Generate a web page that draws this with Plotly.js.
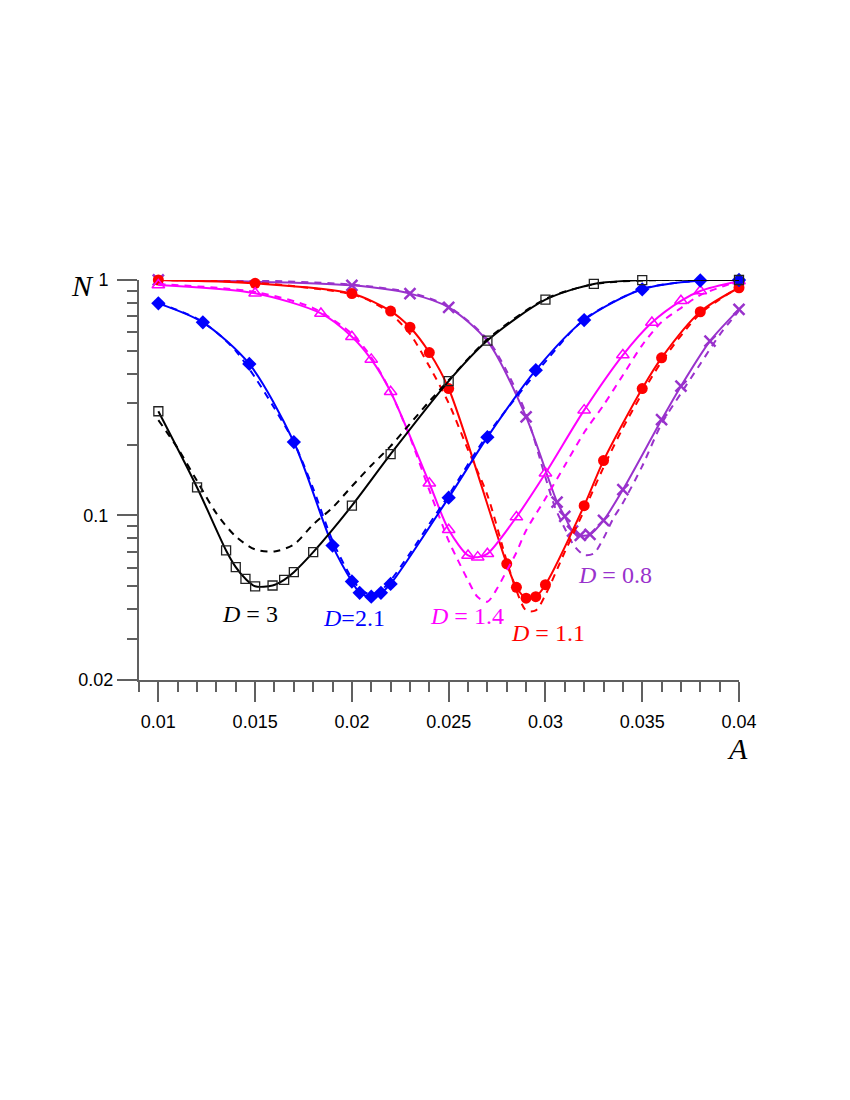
<!DOCTYPE html>
<html>
<head>
<meta charset="utf-8">
<script src="https://cdn.plot.ly/plotly-3.0.1.min.js"></script>
<style>
  html, body { margin: 0; padding: 0; background: #ffffff; }
  #chart { width: 850px; height: 1100px; }
</style>
</head>
<body>
<div id="chart"></div>
<script>
// ---------- data ----------
// D = 3 (black, squares)
const x3  = [0.01, 0.012, 0.0135, 0.014, 0.0145, 0.015, 0.0159, 0.0165, 0.017, 0.018, 0.02, 0.022, 0.025, 0.027, 0.03, 0.0325, 0.035, 0.04];
const y3  = [0.277, 0.1315, 0.071, 0.0603, 0.0538, 0.050, 0.0504, 0.0533, 0.0574, 0.0698, 0.110, 0.182, 0.372, 0.553, 0.825, 0.962, 0.998, 1.0];
const x3d = [0.01, 0.011, 0.012, 0.013, 0.014, 0.015, 0.016, 0.017, 0.018, 0.019, 0.02, 0.021, 0.022, 0.023, 0.024, 0.025, 0.027, 0.03, 0.0325, 0.035, 0.04];
const y3d = [0.254, 0.193, 0.14, 0.102, 0.0814, 0.0717, 0.0703, 0.0753, 0.0916, 0.108, 0.133, 0.163, 0.197, 0.245, 0.305, 0.375, 0.56, 0.83, 0.96, 0.995, 1.0];

// D = 2.1 (blue, diamonds)
const x21  = [0.01, 0.0123, 0.0147, 0.017, 0.019, 0.02, 0.0204, 0.021, 0.0215, 0.022, 0.025, 0.027, 0.0295, 0.032, 0.035, 0.038, 0.04];
const y21  = [0.796, 0.661, 0.44, 0.205, 0.0745, 0.0524, 0.0469, 0.0452, 0.0469, 0.0512, 0.119, 0.215, 0.414, 0.676, 0.913, 0.995, 1.0];
const x21d = [0.01, 0.011, 0.012, 0.013, 0.014, 0.015, 0.016, 0.017, 0.018, 0.019, 0.02, 0.0205, 0.021, 0.0215, 0.022, 0.023, 0.024, 0.025, 0.027, 0.03, 0.032, 0.035, 0.038, 0.04];
const y21d = [0.80, 0.745, 0.685, 0.60, 0.50, 0.385, 0.285, 0.205, 0.13, 0.078, 0.054, 0.048, 0.0462, 0.048, 0.053, 0.069, 0.092, 0.122, 0.22, 0.45, 0.68, 0.915, 0.995, 1.0];

// D = 1.4 (magenta, open triangles)
const x14  = [0.01, 0.015, 0.0184, 0.02, 0.021, 0.022, 0.024, 0.025, 0.026, 0.0265, 0.027, 0.0285, 0.03, 0.032, 0.034, 0.0355, 0.037, 0.038, 0.04];
const y14  = [0.952, 0.878, 0.721, 0.574, 0.46, 0.335, 0.137, 0.0869, 0.0676, 0.0665, 0.0687, 0.0984, 0.151, 0.28, 0.48, 0.66, 0.816, 0.898, 0.99];
const x14d = [0.01, 0.015, 0.018, 0.02, 0.021, 0.022, 0.023, 0.024, 0.025, 0.0255, 0.026, 0.0265, 0.027, 0.0275, 0.028, 0.0285, 0.029, 0.03, 0.031, 0.032, 0.033, 0.034, 0.035, 0.036, 0.037, 0.038, 0.04];
const y14d = [0.96, 0.89, 0.76, 0.59, 0.47, 0.335, 0.215, 0.128, 0.078, 0.064, 0.053, 0.045, 0.043, 0.0489, 0.0583, 0.0696, 0.0863, 0.118, 0.163, 0.225, 0.294, 0.394, 0.529, 0.663, 0.76, 0.863, 0.99];

// D = 1.1 (red, filled circles)
const x11  = [0.01, 0.015, 0.02, 0.022, 0.023, 0.024, 0.025, 0.028, 0.0285, 0.029, 0.0295, 0.03, 0.032, 0.033, 0.035, 0.036, 0.038, 0.04];
const y11  = [1.0, 0.968, 0.876, 0.738, 0.63, 0.492, 0.346, 0.0623, 0.0495, 0.0445, 0.0452, 0.0508, 0.11, 0.171, 0.346, 0.467, 0.733, 0.927];
const x11d = [0.01, 0.015, 0.02, 0.021, 0.022, 0.023, 0.024, 0.025, 0.026, 0.027, 0.028, 0.0285, 0.029, 0.0295, 0.03, 0.031, 0.032, 0.033, 0.034, 0.035, 0.036, 0.038, 0.04];
const y11d = [1.0, 0.975, 0.87, 0.81, 0.72, 0.59, 0.43, 0.30, 0.19, 0.122, 0.064, 0.048, 0.0395, 0.0395, 0.046, 0.07, 0.105, 0.16, 0.235, 0.33, 0.45, 0.72, 0.93];

// D = 0.8 (purple, crosses)
const x08  = [0.01, 0.02, 0.023, 0.025, 0.029, 0.0306, 0.031, 0.0314, 0.0318, 0.0323, 0.033, 0.034, 0.036, 0.037, 0.0385, 0.04];
const y08  = [1.0, 0.949, 0.875, 0.765, 0.262, 0.114, 0.099, 0.0858, 0.0822, 0.083, 0.0952, 0.1286, 0.255, 0.354, 0.55, 0.75];
const x08line = [0.01, 0.02, 0.023, 0.025, 0.027, 0.029, 0.0306, 0.031, 0.0314, 0.0318, 0.0323, 0.033, 0.034, 0.036, 0.037, 0.0385, 0.04];
const y08line = [1.0, 0.949, 0.875, 0.765, 0.55, 0.262, 0.114, 0.099, 0.0858, 0.0822, 0.083, 0.0952, 0.1286, 0.255, 0.354, 0.55, 0.75];
const x08d = [0.01, 0.015, 0.02, 0.023, 0.025, 0.027, 0.028, 0.029, 0.03, 0.0305, 0.031, 0.0315, 0.032, 0.0325, 0.033, 0.0335, 0.034, 0.035, 0.036, 0.037, 0.038, 0.039, 0.04];
const y08d = [1.0, 0.995, 0.955, 0.885, 0.77, 0.56, 0.41, 0.27, 0.145, 0.108, 0.088, 0.074, 0.068, 0.069, 0.08, 0.097, 0.113, 0.162, 0.245, 0.33, 0.44, 0.585, 0.74];

// axis ticks
const xMajor = [0.01, 0.015, 0.02, 0.025, 0.03, 0.035, 0.04];
const xMajorText = ['0.01', '0.015', '0.02', '0.025', '0.03', '0.035', '0.04'];
const xMinor = [0.009, 0.011, 0.012, 0.013, 0.014, 0.016, 0.017, 0.018, 0.019, 0.021, 0.022, 0.023, 0.024, 0.026, 0.027, 0.028, 0.029, 0.031, 0.032, 0.033, 0.034, 0.036, 0.037, 0.038, 0.039];
const yMajor = [0.02, 0.1, 1];
const yMajorText = ['0.02', '0.1\u00a0', '1\u00a0'];
const yMinor = [0.03, 0.04, 0.05, 0.06, 0.07, 0.08, 0.09, 0.2, 0.3, 0.4, 0.5, 0.6, 0.7, 0.8, 0.9];

// labels
const labelText = ['<i>D</i> = 3', '<i>D</i>=2.1', '<i>D</i> = 1.4', '<i>D</i> = 1.1', '<i>D</i> = 0.8'];
const labelX = [0.01473, 0.0201, 0.02594, 0.03013, 0.03359];
const labelY = [0.0383, 0.0368, 0.0375, 0.0318, 0.0561];

// ---------- styles ----------
const C3 = '#000000', C21 = '#0000ff', C14 = '#ff00ff', C11 = '#ff0000', C08 = '#9932cc';
const dashPat = '7px,6px';

function solid(x, y, color, marker) {
  const t = { x: x, y: y, type: 'scatter', mode: marker ? 'lines+markers' : 'lines', cliponaxis: false,
           line: { color: color, width: 2, shape: 'spline', smoothing: 0.8 },
           hoverinfo: 'skip', showlegend: false };
  if (marker) t.marker = marker;
  return t;
}
function dashed(x, y, color) {
  return { x: x, y: y, type: 'scatter', mode: 'lines', cliponaxis: false,
           line: { color: color, width: 2, dash: dashPat, shape: 'spline', smoothing: 0.8 },
           hoverinfo: 'skip', showlegend: false };
}

const traces = [
  dashed(x08d, y08d, C08),
  solid(x08line, y08line, C08),
  { x: x08, y: y08, type: 'scatter', mode: 'markers', cliponaxis: false, hoverinfo: 'skip', showlegend: false,
    marker: { symbol: 'x-thin-open', size: 11, color: C08, line: { color: C08, width: 2.5 } } },
  dashed(x11d, y11d, C11),
  solid(x11, y11, C11, { symbol: 'circle', size: 11, color: C11 }),
  dashed(x14d, y14d, C14),
  solid(x14, y14, C14, { symbol: 'triangle-up-open', size: 11, color: C14, line: { color: C14, width: 1.5 } }),
  dashed(x21d, y21d, C21),
  solid(x21, y21, C21, { symbol: 'diamond', size: 11, color: C21 }),
  dashed(x3d, y3d, C3),
  solid(x3, y3, C3, { symbol: 'square-open', size: 9, color: '#222222', line: { color: '#222222', width: 1.3 } })
];

const labelColors = [C3, C21, C14, C11, C08];
const annotations = labelText.map((t, i) => ({
  x: labelX[i], y: Math.log10(labelY[i]), xref: 'x', yref: 'y', text: t, showarrow: false,
  xanchor: 'center', yanchor: 'middle',
  font: { family: 'Liberation Serif, Times New Roman, serif', size: 24, color: labelColors[i] }
}));
annotations.push({ x: -0.095, y: 0.9875, xref: 'paper', yref: 'paper', text: '<i>N</i>', showarrow: false,
  xanchor: 'center', yanchor: 'middle', font: { family: 'Liberation Serif, Times New Roman, serif', size: 30, color: '#000' } });
annotations.push({ x: 0.998, y: -0.17, xref: 'paper', yref: 'paper', text: '<i>A</i>', showarrow: false,
  xanchor: 'center', yanchor: 'middle', font: { family: 'Liberation Serif, Times New Roman, serif', size: 30, color: '#000' } });

const axisGray = '#606060';
const layout = {
  width: 850, height: 1100,
  margin: { l: 139, r: 111, t: 280, b: 420, pad: 0 },
  paper_bgcolor: '#ffffff', plot_bgcolor: '#ffffff',
  showlegend: false,
  xaxis: {
    range: [0.009, 0.04], type: 'linear',
    showgrid: false, zeroline: false,
    showline: true, linecolor: axisGray, linewidth: 2,
    ticks: 'outside', ticklen: 20, tickwidth: 2, tickcolor: axisGray,
    tickmode: 'array', tickvals: xMajor, ticktext: xMajorText,
    ticklabelstandoff: 4,
    tickfont: { family: 'Liberation Sans, Arial, sans-serif', size: 18, color: '#000' },
    minor: { tickmode: 'array', tickvals: xMinor, ticks: 'outside', ticklen: 10, tickwidth: 2, tickcolor: axisGray, showgrid: false }
  },
  yaxis: {
    type: 'log', range: [Math.log10(0.02), 0],
    showgrid: false, zeroline: false,
    showline: true, linecolor: axisGray, linewidth: 2,
    ticks: 'outside', ticklen: 20, tickwidth: 2, tickcolor: axisGray,
    tickmode: 'array', tickvals: yMajor, ticktext: yMajorText,
    tickfont: { family: 'Liberation Sans, Arial, sans-serif', size: 18, color: '#000' },
    minor: { tickmode: 'array', tickvals: yMinor, ticks: 'outside', ticklen: 10, tickwidth: 2, tickcolor: axisGray, showgrid: false }
  },
  annotations: annotations
};

Plotly.newPlot('chart', traces, layout, { staticPlot: true, displayModeBar: false });
</script>
</body>
</html>
